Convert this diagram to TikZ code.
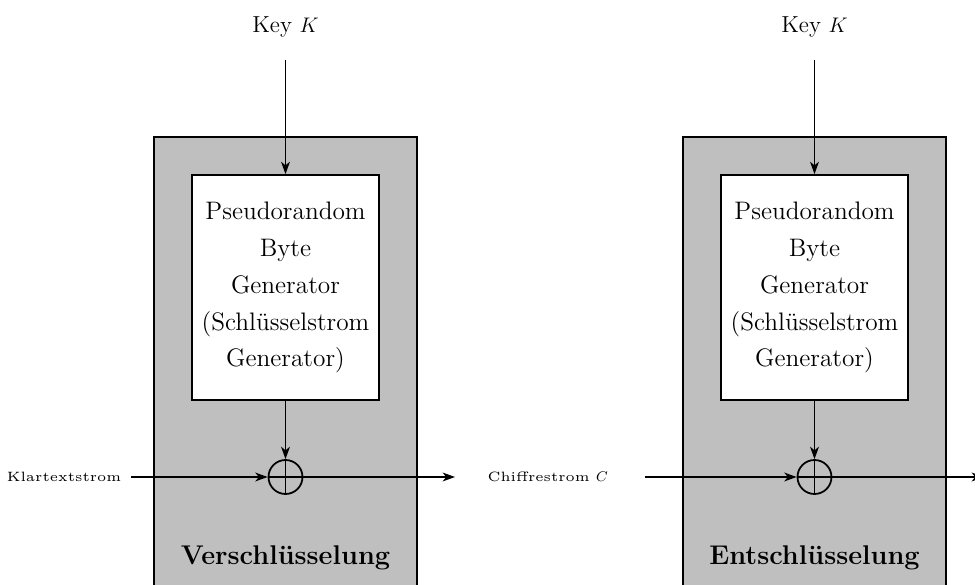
\documentclass[tikz,border=0pt]{standalone}
\usepackage{fontspec}
\usetikzlibrary{positioning,arrows.meta}
\newfontfamily\streamfont{lmroman5-regular.otf}

\tikzset{
    stream/.style={font={\streamfont\fontsize{7.7}{9}\selectfont}},
    keytext/.style={font={\fontsize{13.2}{15}\selectfont}},
    title/.style={font={\fontsize{15.4}{18}\selectfont\bfseries}},
    outer/.style={draw=black, line width=1pt, fill=lightgray},
    prng/.style={draw=black, line width=1pt, fill=white, minimum width=3.74cm,
        minimum height=4.5cm, align=center, font=\Large},
    xor/.style={draw=black, line width=1pt, circle, minimum size=0.68cm, inner sep=0pt},
    flow/.style={line width=1pt, -{Stealth[length=7pt,width=5pt,inset=2pt]}}
}

\begin{document}
\begin{tikzpicture}
        \useasboundingbox (0,0) rectangle (19.5,11.68);
        \clip (0,0) rectangle (19.5,11.68);
        % Verschluesselung
        \draw[outer] (3.08,-0.5) rectangle (8.34,8.94);
        \node[prng] (prngA) at (5.71,5.93)
            {Pseudorandom\\[3pt]Byte\\[3pt]Generator\\[3pt](Schlüsselstrom\\[3pt]Generator)};
        \node[xor] (xorA) at (5.71,2.14) {};
        \draw[line width=1pt] (xorA.north)--(xorA.south) (xorA.west)--(xorA.east);
        \coordinate (kA) at (5.71,10.48);
        \node[keytext, above=0.33cm of kA] (keyA) {Key $K$};
        \coordinate (inA) at (2.62,2.14);
        \node[stream, left=0.07cm of inA] (klarA) {Klartextstrom};
        \coordinate (outA) at (9.1,2.14);
        \draw[flow] (kA) -- (prngA.north);
        \draw[flow] (prngA.south) -- (xorA.north);
        \draw[flow] (inA) -- (xorA.west);
        \draw[flow] (xorA.east) -- (outA);
        \node[title] (titleA) at (5.71,0.52) {Verschlüsselung};
        % Entschluesselung
        \draw[outer] (13.66,-0.5) rectangle (18.92,8.94);
        \node[prng] (prngB) at (16.29,5.93)
            {Pseudorandom\\[3pt]Byte\\[3pt]Generator\\[3pt](Schlüsselstrom\\[3pt]Generator)};
        \node[xor] (xorB) at (16.29,2.14) {};
        \draw[line width=1pt] (xorB.north)--(xorB.south) (xorB.west)--(xorB.east);
        \coordinate (kB) at (16.29,10.48);
        \node[keytext, above=0.33cm of kB] (keyB) {Key $K$};
        \coordinate (inB) at (12.9,2.14);
        \node[stream, left=0.62cm of inB] (chiffB) {Chiffrestrom $C$};
        \coordinate (outB) at (19.68,2.14);
        \draw[flow] (kB) -- (prngB.north);
        \draw[flow] (prngB.south) -- (xorB.north);
        \draw[flow] (inB) -- (xorB.west);
        \draw[flow] (xorB.east) -- (outB);
        \node[title] (titleB) at (16.29,0.52) {Entschlüsselung};
    \end{tikzpicture}
\end{document}
